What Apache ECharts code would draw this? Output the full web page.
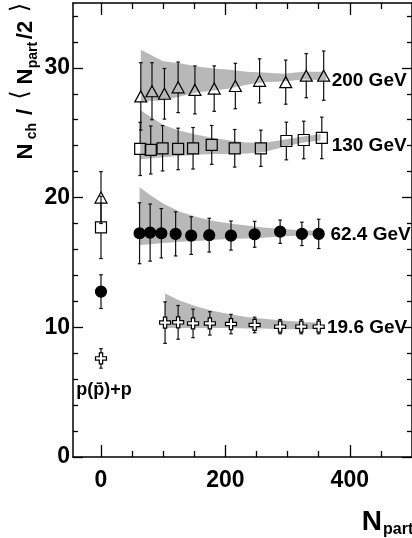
<!DOCTYPE html>
<html>
<head>
<meta charset="utf-8">
<script src="https://cdn.jsdelivr.net/npm/echarts@6/dist/echarts.min.js"></script>
<style>
html,body{margin:0;padding:0;background:#fff;}
#chart{width:412px;height:538px;}
</style>
</head>
<body>
<div id="chart"></div>
<script>
// ---------------- data ----------------
const xTickLabels = [0, 200, 400];
const xMinorTicks = [50, 100, 150, 250, 300, 350, 450];
const yTickLabels = [0, 10, 20, 30];
const yMinorTicks = [2, 4, 6, 8, 12, 14, 16, 18, 22, 24, 26, 28, 32, 34];

// p(pbar)+p reference values at Npart = 0 : 200, 130, 62.4, 19.6 GeV
const ppNpart = 0;
const ppValues = [20.0, 17.7, 12.75, 7.6];
const ppErrors = [2.0, 2.4, 1.3, 0.75];

const npart200 = [64, 82, 102, 124, 151, 182, 216, 255, 297, 330, 358];
const nch200   = [27.8, 28.2, 28.0, 28.5, 28.3, 28.4, 28.6, 29.0, 28.9, 29.4, 29.4];
const err200   = [2.6, 2.2, 1.95, 1.95, 1.85, 1.75, 1.75, 1.7, 1.7, 1.7, 1.9];

const npart130 = [63, 80, 99, 124, 148, 178, 215, 257, 298, 326, 355];
const nch130   = [23.75, 23.67, 23.8, 23.75, 23.8, 24.06, 23.8, 23.8, 24.36, 24.44, 24.6];
const err130   = [2.05, 1.85, 1.75, 1.6, 1.6, 1.5, 1.45, 1.4, 1.45, 1.45, 1.6];

const npart62 = [62, 79, 97, 120, 145, 174, 209, 247, 288, 323, 350];
const nch62   = [17.25, 17.3, 17.25, 17.2, 17.07, 17.1, 17.07, 17.17, 17.37, 17.2, 17.2];
const err62   = [2.35, 2.2, 1.9, 1.7, 1.45, 1.3, 1.12, 1.0, 0.9, 0.9, 1.13];

const npart19 = [103, 124, 148, 175, 209, 247, 288, 322, 350];
const nch19   = [10.36, 10.38, 10.3, 10.3, 10.25, 10.18, 10.05, 10.05, 10.05];
const err19   = [1.6, 1.3, 1.1, 0.9, 0.75, 0.6, 0.55, 0.55, 0.55];

// systematic bands
const band200X  = [64, 100, 127, 154, 181, 207, 234, 261, 293, 325, 362];
const band200Lo = [27.4, 27.5, 27.8, 28.1, 28.25, 28.4, 28.7, 28.9, 28.95, 29.1, 29.05];
const band200Hi = [31.4, 30.5, 30.35, 30.1, 29.95, 29.85, 29.7, 29.65, 29.55, 29.7, 29.7];

const band130X  = [63, 100, 127, 154, 181, 207, 234, 261, 293, 325, 353];
const band130Lo = [22.95, 23.1, 23.2, 23.3, 23.35, 23.35, 23.4, 23.5, 23.9, 24.25, 24.4];
const band130Hi = [26.75, 25.6, 25.15, 24.85, 24.6, 24.4, 24.25, 24.2, 24.45, 24.7, 24.9];

const band62X  = [62, 79, 100, 127, 154, 181, 207, 234, 261, 288, 314, 349];
const band62Lo = [16.35, 16.4, 16.5, 16.6, 16.65, 16.75, 16.8, 16.85, 16.9, 17.0, 17.05, 17.1];
const band62Hi = [20.8, 20.2, 19.55, 18.9, 18.5, 18.2, 18.0, 17.85, 17.7, 17.6, 17.5, 17.45];

const band19X  = [103, 127, 154, 181, 207, 234, 261, 288, 314, 351];
const band19Lo = [9.95, 9.95, 9.95, 9.95, 9.95, 9.9, 9.9, 9.85, 9.85, 9.85];
const band19Hi = [12.6, 12.05, 11.6, 11.25, 11.0, 10.8, 10.65, 10.55, 10.45, 10.35];

const energyLabels = ['200 GeV', '130 GeV', '62.4 GeV', '19.6 GeV'];
const energyLabelAt = [[370, 29.0], [370, 23.98], [368, 17.12], [362.5, 10.0]];
const ppLabel = 'p(p\u0304)+p';
const ppLabelAt = [5, 5.17];

// ---------------- chart ----------------
const FONT = '"Liberation Sans", Arial, Helvetica, sans-serif';
const chart = echarts.init(document.getElementById('chart'), null, {renderer: 'canvas'});

const pairs = (xs, ys) => xs.map((x, i) => [x, ys[i]]);
const triples = (xs, ys, es) => xs.map((x, i) => [x, ys[i], es[i]]);

function bandSeries(xs, lo, hi) {
  return {
    type: 'custom', xAxisIndex: 0, yAxisIndex: 0, z: 1, silent: true,
    data: xs.map((x, i) => [x, lo[i], hi[i]]),
    encode: {x: 0, y: [1, 2]},
    renderItem: function (params, api) {
      if (params.dataIndex !== 0) return null;
      const pts = [];
      for (let i = 0; i < xs.length; i++) pts.push(api.coord([xs[i], hi[i]]));
      for (let i = xs.length - 1; i >= 0; i--) pts.push(api.coord([xs[i], lo[i]]));
      return {type: 'polygon', shape: {points: pts}, style: {fill: '#b8b8b8', stroke: null}};
    }
  };
}

function errSeries(data, half) {
  return {
    type: 'custom', xAxisIndex: 0, yAxisIndex: 0, z: 2, silent: true,
    data: data,
    encode: {x: 0, y: 1},
    renderItem: function (params, api) {
      const x = api.value(0), y = api.value(1), e = api.value(2);
      const c = api.coord([x, y]);
      const t = api.coord([x, y + e]);
      const b = api.coord([x, y - e]);
      const st = {stroke: '#111', lineWidth: 1.2};
      const ch = [];
      if (c[1] - half > t[1]) {
        ch.push({type: 'line', shape: {x1: c[0], y1: t[1], x2: c[0], y2: c[1] - half}, style: st});
        ch.push({type: 'line', shape: {x1: c[0] - 1.8, y1: t[1], x2: c[0] + 1.8, y2: t[1]}, style: st});
      }
      if (b[1] > c[1] + half) {
        ch.push({type: 'line', shape: {x1: c[0], y1: c[1] + half, x2: c[0], y2: b[1]}, style: st});
        ch.push({type: 'line', shape: {x1: c[0] - 1.8, y1: b[1], x2: c[0] + 1.8, y2: b[1]}, style: st});
      }
      return {type: 'group', children: ch};
    }
  };
}

function markerSeries(data, symbol, size, fill) {
  return {
    type: 'scatter', xAxisIndex: 0, yAxisIndex: 0, z: 3, silent: true,
    symbol: symbol, symbolSize: size,
    itemStyle: {color: fill, borderColor: '#000', borderWidth: 1.2, opacity: 1},
    data: data
  };
}

const crossPath = 'path://M3.5,0 H6.5 V3.5 H10 V6.5 H6.5 V10 H3.5 V6.5 H0 V3.5 H3.5 Z';

const data200 = [[ppNpart, ppValues[0]]].concat(pairs(npart200, nch200));
const data130 = [[ppNpart, ppValues[1]]].concat(pairs(npart130, nch130));
const data62  = [[ppNpart, ppValues[2]]].concat(pairs(npart62, nch62));
const data19  = [[ppNpart, ppValues[3]]].concat(pairs(npart19, nch19));

const e200 = [[ppNpart, ppValues[0], ppErrors[0]]].concat(triples(npart200, nch200, err200));
const e130 = [[ppNpart, ppValues[1], ppErrors[1]]].concat(triples(npart130, nch130, err130));
const e62  = [[ppNpart, ppValues[2], ppErrors[2]]].concat(triples(npart62, nch62, err62));
const e19  = [[ppNpart, ppValues[3], ppErrors[3]]].concat(triples(npart19, nch19, err19));

const axisLineStyle = {color: '#000', width: 1.5};
function xAx(pos, major) {
  return {
    type: 'value', min: -45, max: 500, position: pos,
    axisLine: {show: major, onZero: false, lineStyle: axisLineStyle},
    axisTick: {show: true, inside: true, length: major ? 12 : 6,
      customValues: major ? xTickLabels : xMinorTicks, lineStyle: {color: '#000', width: 1.3}},
    axisLabel: (major && pos === 'bottom') ? {
      show: true, customValues: xTickLabels, fontSize: 23, fontWeight: 'bold',
      fontFamily: FONT, color: '#000', margin: 12
    } : {show: false},
    splitLine: {show: false}
  };
}
function yAx(pos, major) {
  return {
    type: 'value', min: 0, max: 35, position: pos,
    axisLine: {show: major, onZero: false, lineStyle: axisLineStyle},
    axisTick: {show: true, inside: true, length: major ? 10 : 5,
      customValues: major ? yTickLabels : yMinorTicks, lineStyle: {color: '#000', width: 1.3}},
    axisLabel: (major && pos === 'left') ? {
      show: true, customValues: yTickLabels, fontSize: 23, fontWeight: 'bold',
      fontFamily: FONT, color: '#000', margin: 3
    } : {show: false},
    splitLine: {show: false}
  };
}

function rot(text, x, y, size, weight, family) {
  return {
    type: 'text', x: x, y: y, rotation: Math.PI / 2, silent: true,
    style: {text: text, fill: '#000', align: 'center', verticalAlign: 'middle',
      font: (weight || 'bold') + ' ' + size + 'px ' + (family || FONT)}
  };
}

const option = {
  animation: false,
  backgroundColor: '#fff',
  grid: {left: 73, right: 0, top: 3, bottom: 81, containLabel: false},
  xAxis: [xAx('bottom', true), xAx('bottom', false), xAx('top', true), xAx('top', false)],
  yAxis: [yAx('left', true), yAx('left', false), yAx('right', true), yAx('right', false)],
  series: [
    bandSeries(band200X, band200Lo, band200Hi),
    bandSeries(band130X, band130Lo, band130Hi),
    bandSeries(band62X, band62Lo, band62Hi),
    bandSeries(band19X, band19Lo, band19Hi),
    errSeries(e200, 5),
    errSeries(e130, 5.5),
    errSeries(e62, 5),
    errSeries(e19, 5),
    markerSeries(data200, 'triangle', [12, 11], 'transparent'),
    markerSeries(data130, 'rect', 11, 'transparent'),
    markerSeries(data62, 'circle', 11, '#000'),
    markerSeries(data19, crossPath, 11, '#fff'),
    {
      type: 'scatter', xAxisIndex: 0, yAxisIndex: 0, z: 4, silent: true,
      symbolSize: 1, itemStyle: {opacity: 0},
      data: energyLabelAt.map((p, i) => ({value: p, name: energyLabels[i]})),
      label: {show: true, position: 'right', distance: 0, formatter: '{b}', opacity: 1,
        fontSize: 19, fontWeight: 'bold', fontFamily: FONT, color: '#000'}
    },
    {
      type: 'scatter', xAxisIndex: 0, yAxisIndex: 0, z: 4, silent: true,
      symbolSize: 1, itemStyle: {opacity: 0},
      data: [{value: ppLabelAt, name: ppLabel}],
      label: {show: true, position: 'inside', formatter: '{b}', opacity: 1,
        fontSize: 18, fontWeight: 'bold', fontFamily: FONT, color: '#000'}
    }
  ],
  graphic: [
    // x-axis title  N_part
    {type: 'text', x: 382, y: 522, silent: true,
      style: {text: 'N', fill: '#000', align: 'right', verticalAlign: 'middle', font: 'bold 28px ' + FONT}},
    {type: 'text', x: 383, y: 530, silent: true,
      style: {text: 'part', fill: '#000', align: 'left', verticalAlign: 'middle', font: 'bold 16px ' + FONT}},
    // y-axis title  N_ch / < N_part/2 >
    rot('N', 25.5, 151.5, 22),
    rot('ch', 32.5, 131, 14),
    rot('/', 25.5, 112, 22),
    rot('\u27E8', 20.5, 95, 24, 'normal', '"DejaVu Sans", sans-serif'),
    rot('N', 25.5, 76.5, 22),
    rot('part', 33.5, 55, 14),
    rot('/2', 25.5, 30, 22),
    rot('\u27E9', 21, 7.5, 24, 'normal', '"DejaVu Sans", sans-serif')
  ]
};
chart.setOption(option);
</script>
</body>
</html>
